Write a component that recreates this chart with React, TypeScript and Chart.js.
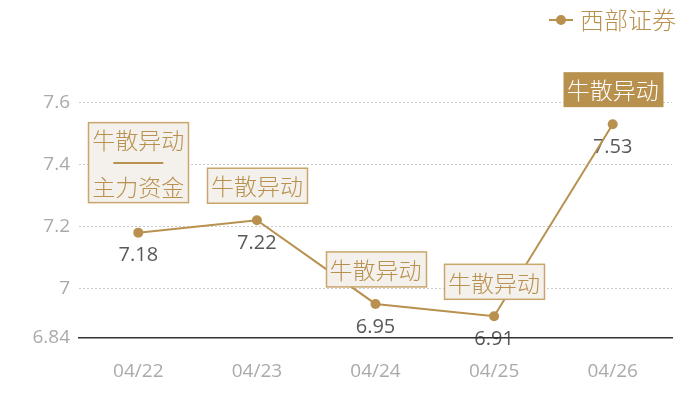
import React, { useEffect, useRef } from "react";
import { Chart, registerables } from "chart.js";

Chart.register(...registerables);

const categories = ["04/22", "04/23", "04/24", "04/25", "04/26"];
const prices = [7.18, 7.22, 6.95, 6.91, 7.53];
const yTicks = [6.84, 7, 7.2, 7.4, 7.6];
const eventLabels = [
  ["牛散异动", "——", "主力资金"],
  ["牛散异动"],
  ["牛散异动"],
  ["牛散异动"],
  ["牛散异动"],
];
const highlighted = [false, false, false, false, true];
const seriesName = "西部证券";

const GOLD = "#b8914f";
const CJK = "'Noto Sans CJK SC', 'Noto Sans', sans-serif";
const NUM = "'Open Sans', 'Noto Sans CJK SC', sans-serif";

const overlayPlugin = {
  id: "overlay",
  beforeDraw(chart: any) {
    const ctx = chart.ctx;
    const meta = chart.getDatasetMeta(0);
    ctx.save();
    ctx.font = `20px ${NUM}`;
    ctx.fillStyle = "#595959";
    ctx.textAlign = "center";
    ctx.textBaseline = "middle";
    meta.data.forEach((pt: any, i: number) => {
      ctx.fillText(String(prices[i]), pt.x, pt.y + 23);
    });
    ctx.restore();
  },
  afterDatasetsDraw(chart: any) {
    const ctx = chart.ctx;
    const meta = chart.getDatasetMeta(0);
    ctx.save();
    ctx.font = `300 23px ${CJK}`;
    ctx.textAlign = "center";
    ctx.textBaseline = "middle";
    meta.data.forEach((pt: any, i: number) => {
      const lines = eventLabels[i];
      const lineH = 23.5;
      const w = 100;
      const h = lines.length === 1 ? 35 : 80;
      const lift = lines.length === 1 ? 17 : 30;
      const bottom = pt.y - lift;
      const top = bottom - h;
      const left = Math.round(pt.x - w / 2) + 0.5;
      if (highlighted[i]) {
        ctx.fillStyle = GOLD;
        ctx.fillRect(left, top, w, h);
      } else {
        ctx.fillStyle = "#f4f0eb";
        ctx.fillRect(left, top, w, h);
        ctx.strokeStyle = "#c9a66b";
        ctx.lineWidth = 1.5;
        ctx.strokeRect(left, top, w, h);
      }
      ctx.fillStyle = highlighted[i] ? "#ffffff" : GOLD;
      const cy = top + h / 2;
      lines.forEach((t, j) => {
        const y = cy + (j - (lines.length - 1) / 2) * lineH;
        if (t === "——") {
          ctx.fillRect(pt.x - 25, Math.round(y) - 1, 50, 2);
        } else {
          ctx.fillText(t, pt.x, y + 1);
        }
      });
    });
    // legend
    ctx.font = `300 24px ${CJK}`;
    ctx.textAlign = "right";
    ctx.fillStyle = GOLD;
    ctx.fillText(seriesName, 676, 20);
    const tw = ctx.measureText(seriesName).width;
    const lx = 676 - tw - 7;
    ctx.strokeStyle = GOLD;
    ctx.lineWidth = 2;
    ctx.beginPath();
    ctx.moveTo(lx - 24, 20);
    ctx.lineTo(lx, 20);
    ctx.stroke();
    ctx.beginPath();
    ctx.arc(lx - 12, 20, 5, 0, Math.PI * 2);
    ctx.fill();
    ctx.restore();
  },
};

export default function App() {
  const ref = useRef<HTMLCanvasElement | null>(null);

  useEffect(() => {
    document.body.style.margin = "0";
    if (!ref.current) return;
    const chart = new Chart(ref.current, {
      type: "line",
      data: {
        labels: categories,
        datasets: [
          {
            label: seriesName,
            data: prices,
            borderColor: GOLD,
            backgroundColor: GOLD,
            borderWidth: 2,
            pointRadius: 5,
            pointBorderWidth: 0,
            pointBackgroundColor: GOLD,
            tension: 0,
          },
        ],
      },
      options: {
        animation: false,
        responsive: false,
        events: [],
        layout: { padding: { top: 56, right: 28, bottom: 0, left: 0 } },
        plugins: {
          legend: { display: false },
          tooltip: { enabled: false },
        },
        scales: {
          x: {
            offset: true,
            grid: { display: false, drawTicks: false },
            border: { display: true, color: "#333", width: 1.5 },
            ticks: {
              color: "#aaaaaa",
              padding: 22,
              font: { size: 19, family: NUM },
            },
            afterFit: (s: any) => {
              s.height = 62;
            },
          },
          y: {
            min: 6.84,
            max: 7.75,
            afterBuildTicks: (s: any) => {
              s.ticks = yTicks.map((v) => ({ value: v }));
            },
            afterFit: (s: any) => {
              s.width = 79;
            },
            grid: {
              drawTicks: false,
              color: (c: any) =>
                c.tick && c.tick.value === 6.84 ? "rgba(0,0,0,0)" : "#cccccc",
              lineWidth: 1,
            },
            border: { display: false, dash: [2, 2] },
            ticks: {
              color: "#aaaaaa",
              padding: 9,
              font: { size: 19, family: NUM },
              callback: (v: any) => String(v),
            },
          },
        },
      },
      plugins: [overlayPlugin],
    });
    return () => chart.destroy();
  }, []);

  return (
    <div style={{ width: 700, height: 400 }}>
      <canvas ref={ref} width={700} height={400} />
    </div>
  );
}
